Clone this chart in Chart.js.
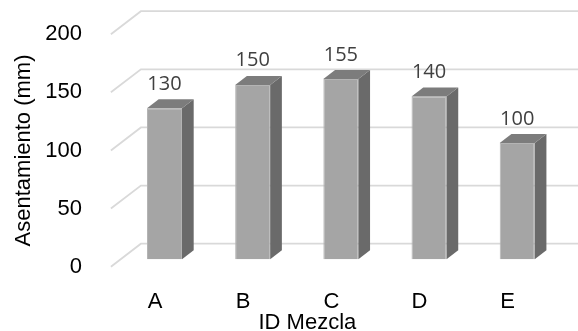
<!DOCTYPE html>
<html>
<head>
<meta charset="utf-8">
<script src="https://cdn.jsdelivr.net/npm/chart.js@4.4.1/dist/chart.umd.min.js"></script>
<style>
  html, body { margin: 0; padding: 0; background: #ffffff; }
  #wrap { width: 578px; height: 331px; }
</style>
</head>
<body>
<div id="wrap"><canvas id="chart" width="578" height="331"></canvas></div>
<script>
// Slump per mix
const categories = ['A', 'B', 'C', 'D', 'E'];
const slumpValues = [130, 150, 155, 140, 100];
const yTickValues = [0, 50, 100, 150, 200];

const AXIS_FONT = 'Arial, "Liberation Sans", sans-serif';
const LABEL_FONT = '"Open Sans", "Noto Sans", sans-serif';

// Perspective offsets (pixels) for the pseudo-3D look
const WALL = { dx: 30, dy: -23 };       // floor front edge -> back wall
const BAR_PLANE = { dx: 9.5, dy: -7.4 }; // floor front edge -> bar front faces
const BAR_DEPTH = { dx: 11.7, dy: -9 };  // bar front face -> bar back face

const COLORS = {
  grid: '#d9d9d9',
  front: '#a5a5a5',
  frontEdge: '#b4b4b4',
  side: '#6a6a6a',
  top: '#7c7c7c',
  label: '#404040'
};

const walls3d = {
  id: 'walls3d',
  beforeDatasetsDraw(chart) {
    const { ctx, chartArea, scales: { y } } = chart;
    ctx.save();
    ctx.strokeStyle = COLORS.grid;
    ctx.lineWidth = 1.8;
    yTickValues.forEach(v => {
      const py = y.getPixelForValue(v);
      ctx.beginPath();
      ctx.moveTo(chartArea.left, py);
      ctx.lineTo(chartArea.left + WALL.dx, py + WALL.dy);
      ctx.lineTo(chart.width + 5, py + WALL.dy);
      ctx.stroke();
    });
    ctx.restore();
    // bars sit partway back on the floor
    ctx.save();
    ctx.translate(BAR_PLANE.dx, BAR_PLANE.dy);
  },
  afterDatasetsDraw(chart) {
    const { ctx } = chart;
    const meta = chart.getDatasetMeta(0);
    meta.data.forEach((bar, i) => {
      const { x, y, base, width } = bar.getProps(['x', 'y', 'base', 'width'], true);
      const l = x - width / 2, r = x + width / 2;
      // side face
      ctx.fillStyle = COLORS.side;
      ctx.beginPath();
      ctx.moveTo(r, y);
      ctx.lineTo(r + BAR_DEPTH.dx, y + BAR_DEPTH.dy);
      ctx.lineTo(r + BAR_DEPTH.dx, base + BAR_DEPTH.dy);
      ctx.lineTo(r, base);
      ctx.closePath();
      ctx.fill();
      // top face
      ctx.fillStyle = COLORS.top;
      ctx.beginPath();
      ctx.moveTo(l, y);
      ctx.lineTo(l + BAR_DEPTH.dx, y + BAR_DEPTH.dy);
      ctx.lineTo(r + BAR_DEPTH.dx, y + BAR_DEPTH.dy);
      ctx.lineTo(r, y);
      ctx.closePath();
      ctx.fill();
      // value label
      ctx.fillStyle = COLORS.label;
      ctx.font = '20px ' + LABEL_FONT;
      ctx.textAlign = 'center';
      ctx.textBaseline = 'alphabetic';
      ctx.fillText(String(chart.data.datasets[0].data[i]), x, y - 18.5);
    });
    ctx.restore();
  },
  afterDraw(chart) {
    const { ctx, chartArea } = chart;
    ctx.save();
    ctx.fillStyle = '#000000';
    ctx.font = '22px ' + AXIS_FONT;
    ctx.textAlign = 'center';
    ctx.textBaseline = 'alphabetic';
    ctx.fillText('ID Mezcla', (chartArea.left + chartArea.right) / 2 - 24, 328.5);
    ctx.restore();
  }
};

new Chart(document.getElementById('chart'), {
  type: 'bar',
  data: {
    labels: categories,
    datasets: [{
      label: 'Asentamiento (mm)',
      data: slumpValues,
      backgroundColor: COLORS.front,
      borderColor: COLORS.frontEdge,
      borderWidth: 1,
      categoryPercentage: 1,
      barPercentage: 0.397,
      clip: false
    }]
  },
  options: {
    responsive: false,
    animation: false,
    events: [],
    layout: { padding: { top: 33.3, right: 26.2, left: 0, bottom: 0 } },
    plugins: {
      legend: { display: false },
      tooltip: { enabled: false },
      title: { display: false }
    },
    scales: {
      x: {
        offset: true,
        grid: { display: false },
        border: { display: false },
        ticks: { color: '#000000', font: { family: AXIS_FONT, size: 22 }, padding: 14.4 },
        afterFit(scale) { scale.height = 64.3; }
      },
      y: {
        min: 0,
        max: 200,
        grid: { display: false },
        border: { display: false },
        ticks: {
          stepSize: 50,
          color: '#000000',
          font: { family: AXIS_FONT, size: 22 },
          padding: 21
        },
        title: {
          display: true,
          text: 'Asentamiento (mm)',
          color: '#000000',
          font: { family: AXIS_FONT, size: 22 },
          padding: { top: 10.8, bottom: 0 }
        },
        afterFit(scale) { scale.width = 110.9; }
      }
    }
  },
  plugins: [walls3d]
});
</script>
</body>
</html>
